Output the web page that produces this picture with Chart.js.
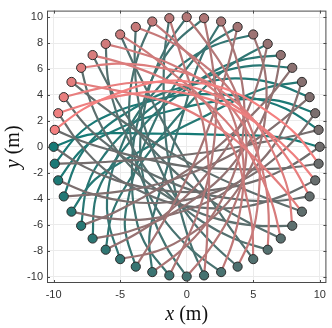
<!DOCTYPE html>
<html>
<head>
<meta charset="utf-8">
<script src="https://cdn.jsdelivr.net/npm/chart.js@4"></script>
<style>
  body { margin: 0; background: #fff; }
  #wrap { width: 332px; height: 328px; }
</style>
</head>
<body>
<div id="wrap"><canvas id="myChart"></canvas></div>
<script>
// tick labels
const xTicks = [-10, -5, 0, 5, 10];
const yTicks = [-10, -8, -6, -4, -2, 0, 2, 4, 6, 8, 10];

// 48 agents on a circle of radius 10, start angle in degrees
const agentRadius = 10;
const agentAngle = [180, 187.5, 195, 202.5, 210, 217.5, 225, 232.5, 240, 247.5, 255, 262.5,
  270, 277.5, 285, 292.5, 300, 307.5, 315, 322.5, 330, 337.5, 345, 352.5,
  0, 7.5, 15, 22.5, 30, 37.5, 45, 52.5, 60, 67.5, 75, 82.5,
  90, 97.5, 105, 112.5, 120, 127.5, 135, 142.5, 150, 157.5, 165, 172.5];

// waypoints between start and goal (goal = opposite side):
// how far each has swung round clockwise (deg), and its distance from the centre (m)
const pathTurn = [
  [7, 12, 22, 90, 160, 170, 175], [16, 33, 56, 90, 126, 149, 166], [14, 27, 49, 90, 133, 155, 168], [17, 35, 58, 90, 124, 147, 165],
  [9, 16, 30, 90, 152, 166, 173], [16, 33, 56, 90, 126, 149, 166], [15, 30, 52, 90, 130, 152, 167], [10, 20, 38, 90, 144, 162, 172],
  [17, 35, 58, 90, 124, 147, 165], [14, 27, 49, 90, 133, 155, 168], [7, 12, 22, 90, 160, 170, 175], [16, 33, 56, 90, 126, 149, 166],
  [11, 26, 50, 90, 130, 154, 169], [5, 12, 28, 90, 152, 168, 175], [12, 29, 54, 90, 126, 151, 168], [8, 20, 42, 90, 138, 160, 172],
  [2, 5, 13, 90, 167, 175, 178], [11, 26, 50, 90, 130, 154, 169], [6, 16, 36, 90, 144, 164, 174], [12, 29, 54, 90, 126, 151, 168],
  [3, 8, 20, 90, 160, 172, 177], [10, 23, 47, 90, 133, 157, 170], [13, 31, 56, 90, 124, 149, 167], [5, 12, 28, 90, 152, 168, 175],
  [11, 26, 50, 90, 130, 154, 169], [2, 5, 13, 90, 167, 175, 178], [12, 29, 54, 90, 126, 151, 168], [6, 16, 36, 90, 144, 164, 174],
  [13, 31, 56, 90, 124, 149, 167], [5, 12, 28, 90, 152, 168, 175], [11, 26, 50, 90, 130, 154, 169], [8, 20, 42, 90, 138, 160, 172],
  [15, 33, 58, 90, 122, 147, 165], [3, 8, 20, 90, 160, 172, 177], [12, 29, 54, 90, 126, 151, 168], [6, 16, 36, 90, 144, 164, 174],
  [11, 28, 56, 90, 124, 151, 168], [3, 9, 28, 90, 152, 170, 176], [10, 26, 54, 90, 126, 153, 169], [13, 30, 58, 90, 122, 149, 166],
  [8, 20, 47, 90, 133, 159, 171], [11, 28, 56, 90, 124, 151, 168], [9, 23, 50, 90, 130, 156, 170], [13, 30, 58, 90, 122, 149, 166],
  [6, 17, 42, 90, 138, 162, 173], [11, 28, 56, 90, 124, 151, 168], [10, 26, 54, 90, 126, 153, 169], [13, 30, 58, 90, 122, 149, 166]
];
const pathRadius = [
  [7.5, 5.1, 2.7, 1.0, 2.7, 5.1, 7.5], [8.0, 6.1, 4.6, 4.0, 4.6, 6.1, 8.0], [7.8, 5.7, 3.9, 3.0, 3.9, 5.7, 7.8], [8.1, 6.4, 5.0, 4.5, 5.0, 6.4, 8.1],
  [7.6, 5.2, 2.9, 1.5, 2.9, 5.2, 7.6], [8.0, 6.1, 4.6, 4.0, 4.6, 6.1, 8.0], [7.9, 5.9, 4.2, 3.5, 4.2, 5.9, 7.9], [7.6, 5.3, 3.2, 2.0, 3.2, 5.3, 7.6],
  [8.1, 6.4, 5.0, 4.5, 5.0, 6.4, 8.1], [7.8, 5.7, 3.9, 3.0, 3.9, 5.7, 7.8], [7.5, 5.1, 2.7, 1.0, 2.7, 5.1, 7.5], [8.0, 6.1, 4.6, 4.0, 4.6, 6.1, 8.0],
  [7.9, 5.9, 4.2, 3.5, 4.2, 5.9, 7.9], [7.6, 5.2, 2.9, 1.5, 2.9, 5.2, 7.6], [8.0, 6.1, 4.6, 4.0, 4.6, 6.1, 8.0], [7.7, 5.5, 3.5, 2.5, 3.5, 5.5, 7.7],
  [7.5, 5.0, 2.6, 0.6, 2.6, 5.0, 7.5], [7.9, 5.9, 4.2, 3.5, 4.2, 5.9, 7.9], [7.6, 5.3, 3.2, 2.0, 3.2, 5.3, 7.6], [8.0, 6.1, 4.6, 4.0, 4.6, 6.1, 8.0],
  [7.5, 5.1, 2.7, 1.0, 2.7, 5.1, 7.5], [7.8, 5.7, 3.9, 3.0, 3.9, 5.7, 7.8], [8.1, 6.4, 5.0, 4.5, 5.0, 6.4, 8.1], [7.6, 5.2, 2.9, 1.5, 2.9, 5.2, 7.6],
  [7.9, 5.9, 4.2, 3.5, 4.2, 5.9, 7.9], [7.5, 5.0, 2.6, 0.6, 2.6, 5.0, 7.5], [8.0, 6.1, 4.6, 4.0, 4.6, 6.1, 8.0], [7.6, 5.3, 3.2, 2.0, 3.2, 5.3, 7.6],
  [8.1, 6.4, 5.0, 4.5, 5.0, 6.4, 8.1], [7.6, 5.2, 2.9, 1.5, 2.9, 5.2, 7.6], [7.9, 5.9, 4.2, 3.5, 4.2, 5.9, 7.9], [7.7, 5.5, 3.5, 2.5, 3.5, 5.5, 7.7],
  [8.3, 6.7, 5.5, 5.0, 5.5, 6.7, 8.3], [7.5, 5.1, 2.7, 1.0, 2.7, 5.1, 7.5], [8.0, 6.1, 4.6, 4.0, 4.6, 6.1, 8.0], [7.6, 5.3, 3.2, 2.0, 3.2, 5.3, 7.6],
  [8.1, 6.4, 5.0, 4.5, 5.0, 6.4, 8.1], [7.6, 5.2, 2.9, 1.5, 2.9, 5.2, 7.6], [8.0, 6.1, 4.6, 4.0, 4.6, 6.1, 8.0], [8.3, 6.7, 5.5, 5.0, 5.5, 6.7, 8.3],
  [7.8, 5.7, 3.9, 3.0, 3.9, 5.7, 7.8], [8.1, 6.4, 5.0, 4.5, 5.0, 6.4, 8.1], [7.9, 5.9, 4.2, 3.5, 4.2, 5.9, 7.9], [8.3, 6.7, 5.5, 5.0, 5.5, 6.7, 8.3],
  [7.7, 5.5, 3.5, 2.5, 3.5, 5.5, 7.7], [8.1, 6.4, 5.0, 4.5, 5.0, 6.4, 8.1], [8.0, 6.1, 4.6, 4.0, 4.6, 6.1, 8.0], [8.3, 6.7, 5.5, 5.0, 5.5, 6.7, 8.3]
];

// teal -> gray -> salmon along the agent index
function agentColor(k) {
  const t = k / (agentAngle.length - 1);
  const a = t < 0.5 ? [22, 122, 118] : [108, 108, 108];
  const b = t < 0.5 ? [108, 108, 108] : [244, 128, 128];
  const f = t < 0.5 ? t * 2 : (t - 0.5) * 2;
  const c = a.map((v, i) => Math.round(v + (b[i] - v) * f));
  return 'rgb(' + c.join(',') + ')';
}

function polar(r, deg) {
  const a = deg * Math.PI / 180;
  return { x: r * Math.cos(a), y: r * Math.sin(a) };
}

const datasets = [];
datasets.push({
  label: 'agents',
  data: agentAngle.map(a => polar(agentRadius, a)),
  backgroundColor: agentAngle.map((a, k) => agentColor(k)),
  borderColor: '#2b2b2b',
  borderWidth: 1,
  pointRadius: 4.6,
  showLine: false,
  clip: false,
  order: 0
});
agentAngle.forEach((a, k) => {
  const pts = [polar(agentRadius, a)];
  pathTurn[k].forEach((t, i) => pts.push(polar(pathRadius[k][i], a - t)));
  pts.push(polar(agentRadius, a - 180));
  datasets.push({
    data: pts,
    showLine: true,
    borderColor: agentColor(k),
    borderWidth: 2.2,
    pointRadius: 0,
    tension: 0.4,
    order: 100 - k
  });
});

const tickFont = { family: 'Liberation Sans, Arial, sans-serif', size: 11 };

const frame = {
  id: 'frame',
  afterDraw(chart) {
    const { ctx, chartArea: ca, scales } = chart;
    ctx.save();
    ctx.strokeStyle = '#4a4a4a';
    ctx.lineWidth = 1;
    ctx.strokeRect(ca.left + 0.5, ca.top + 0.5, ca.right - ca.left - 1, ca.bottom - ca.top - 1);
    ctx.beginPath();
    xTicks.forEach(v => {
      const px = Math.round(scales.x.getPixelForValue(v)) + 0.5;
      ctx.moveTo(px, ca.bottom); ctx.lineTo(px, ca.bottom - 3);
      ctx.moveTo(px, ca.top); ctx.lineTo(px, ca.top + 3);
    });
    yTicks.forEach(v => {
      const py = Math.round(scales.y.getPixelForValue(v)) + 0.5;
      ctx.moveTo(ca.left, py); ctx.lineTo(ca.left + 3, py);
      ctx.moveTo(ca.right, py); ctx.lineTo(ca.right - 3, py);
    });
    ctx.stroke();

    // axis titles: italic variable, upright unit
    ctx.fillStyle = '#111';
    ctx.textBaseline = 'middle';
    const f1 = 'italic 20px "Liberation Serif", serif';
    const f2 = '20px "Liberation Serif", serif';
    const drawTitle = (v) => {
      ctx.font = f1;
      const w1 = ctx.measureText(v).width;
      ctx.font = f2;
      const w2 = ctx.measureText(' (m)').width;
      ctx.font = f1;
      ctx.fillText(v, -(w1 + w2) / 2, 0);
      ctx.font = f2;
      ctx.fillText(' (m)', -(w1 + w2) / 2 + w1, 0);
    };
    ctx.textAlign = 'left';
    ctx.save();
    ctx.translate((ca.left + ca.right) / 2, 315);
    drawTitle('x');
    ctx.restore();
    ctx.save();
    ctx.translate(14, (ca.top + ca.bottom) / 2);
    ctx.rotate(-Math.PI / 2);
    drawTitle('y');
    ctx.restore();
    ctx.restore();
  }
};

const ctx = document.getElementById('myChart').getContext('2d');
const myChart = new Chart(ctx, {
  type: 'scatter',
  data: { datasets: datasets },
  options: {
    animation: false,
    responsive: true,
    maintainAspectRatio: false,
    layout: { padding: { top: 3, right: 3, left: 0, bottom: 0 } },
    plugins: { legend: { display: false }, tooltip: { enabled: false } },
    scales: {
      x: {
        type: 'linear',
        min: -10.5,
        max: 10.5,
        afterBuildTicks: s => { s.ticks = xTicks.map(v => ({ value: v })); },
        afterFit: s => { s.height = 45; },
        grid: { color: '#ebebeb', drawTicks: false },
        border: { display: false },
        ticks: { color: '#333', font: tickFont, padding: 5, maxRotation: 0 }
      },
      y: {
        type: 'linear',
        min: -10.5,
        max: 10.5,
        afterBuildTicks: s => { s.ticks = yTicks.map(v => ({ value: v })); },
        afterFit: s => { s.width = 47; },
        grid: { color: '#ebebeb', drawTicks: false },
        border: { display: false },
        ticks: { color: '#333', font: tickFont, padding: 4 }
      }
    }
  },
  plugins: [frame]
});
</script>
</body>
</html>
